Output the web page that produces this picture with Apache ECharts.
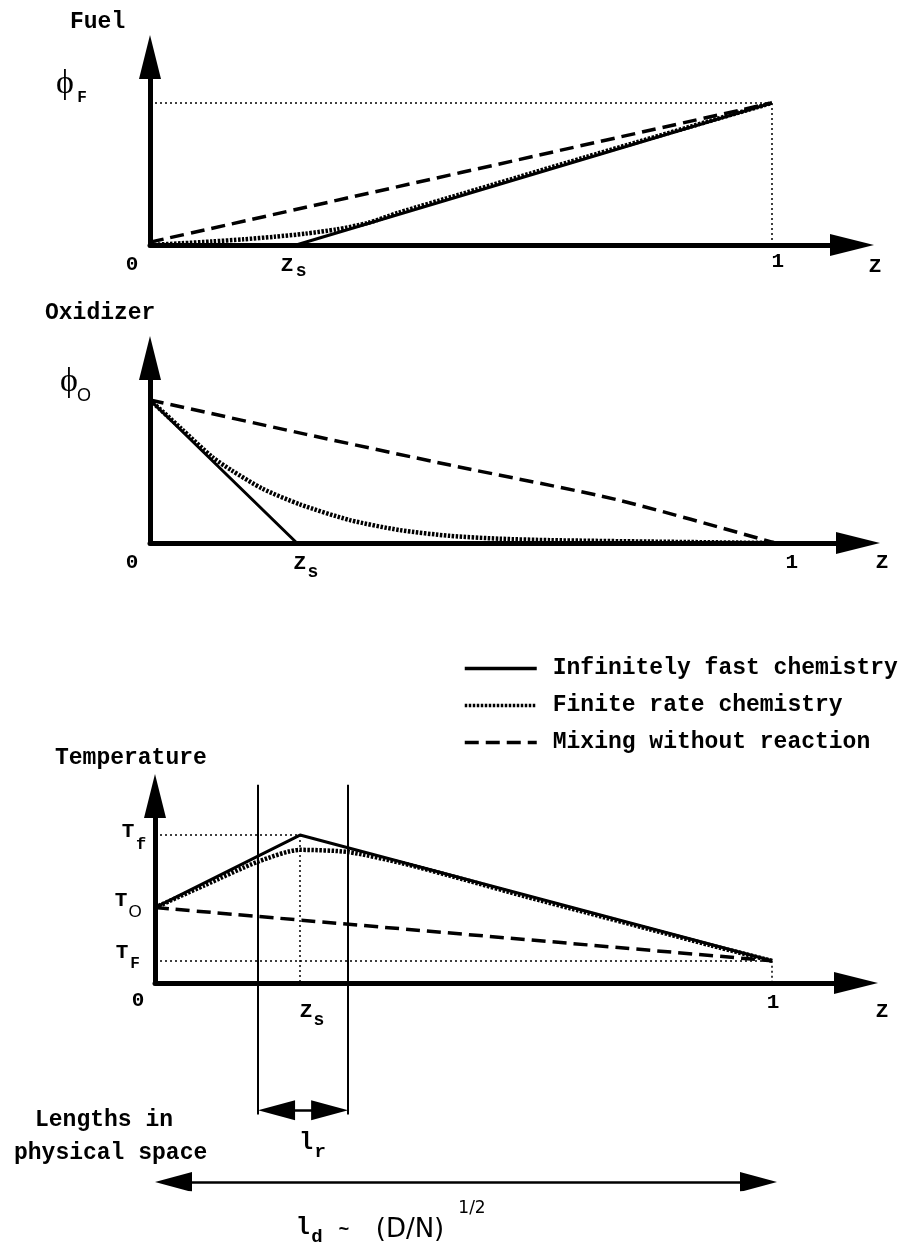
<!DOCTYPE html>
<html>
<head>
<meta charset="utf-8">
<script src="https://cdn.jsdelivr.net/npm/echarts@6/dist/echarts.min.js"></script>
<style>
  html, body { margin: 0; padding: 0; background: #fff; }
  #chart { width: 899px; height: 1246px; }
</style>
</head>
<body>
<div id="chart"></div>
<script>
// mixture fraction at stoichiometry
const zs = 0.235;

// fuel (scaled so phi_F = 1)
const fuelFast = [[0, 0], [zs, 0], [1, 1]];
const fuelFinite = [[0, 0], [0.05, 0.012], [0.1, 0.025], [0.15, 0.04], [0.2, 0.058], [0.25, 0.08],
  [0.3, 0.11], [0.35, 0.155], [0.4, 0.228], [0.5, 0.358], [0.7, 0.618], [1, 1]];
const fuelMix = [[0, 0.02], [1, 1]];

// oxidizer (scaled so phi_O = 1)
const oxFast = [[0, 1], [zs, 0], [1, 0]];
const oxFinite = [[0, 1], [0.05, 0.8], [0.1, 0.6], [0.13, 0.51], [0.18, 0.38], [0.24, 0.27], [0.32, 0.16],
  [0.4, 0.09], [0.48, 0.05], [0.56, 0.03], [0.64, 0.02], [0.8, 0.01], [1, 0]];
const oxMix = [[0, 1], [0.25, 0.76], [0.48, 0.545], [0.75, 0.3], [1, 0]];

// temperature (scaled so Tf = 1)
const tF = 0.15, tO = 0.51, tf = 1;
const tempFast = [[0, tO], [zs, tf], [1, tF]];
const tempFinite = [[0, tO], [0.08, 0.66], [0.167, 0.82], [0.235, 0.9], [0.313, 0.885], [0.4, 0.81],
  [0.5, 0.7], [0.6, 0.585], [0.7, 0.475], [0.8, 0.365], [0.9, 0.255], [1, tF]];
const tempMix = [[0, tO], [1, tF]];

// dotted guide lines
const fuelGuides = [[[0, 1], [1, 1]], [[1, 1], [1, 0]]];
const tempGuides = [[[0, tf], [zs, tf]], [[zs, tf], [zs, 0]], [[0, tF], [1, tF]], [[1, tF], [1, 0]]];

// physical space: reaction zone bounds (in Z) and arrow rows
const lrBounds = [0.167, 0.313];
const lrSpan = [0.18, 0.965];
const lrRow = 0.19;
const ldTips = [0, 1.008];
const ldRow = 0.019;
const head = 0.03;

const names = ['Infinitely fast chemistry', 'Finite rate chemistry', 'Mixing without reaction'];
const styles = [
  { color: '#000', width: 3 },
  { color: '#000', width: 4.5, type: [2.5, 1.5] },
  { color: '#000', width: 3.5, type: [14, 7] }
];

const xMax = [1.129, 1.133, 1.136, 1.136];
const yMax = [1.324, 1.294, 1.264, 1];

const chart = echarts.init(document.getElementById('chart'), null, { renderer: 'canvas' });

function panel(g, sets, guides) {
  return sets.map((d, i) => ({
    type: 'line',
    name: names[i],
    xAxisIndex: g,
    yAxisIndex: g,
    data: d,
    symbol: 'none',
    smooth: i === 0 ? false : 0.25,
    lineStyle: styles[i],
    itemStyle: { color: '#000' },
    silent: true,
    markLine: i === 0 && guides ? {
      silent: true,
      symbol: 'none',
      label: { show: false },
      lineStyle: { color: '#000', width: 1.5, type: [2, 3] },
      data: guides.map(p => [{ coord: p[0] }, { coord: p[1] }])
    } : undefined
  }));
}

const axisCommon = {
  type: 'value',
  min: 0,
  axisLine: {
    show: true,
    lineStyle: { color: '#000', width: 5 },
    symbol: ['none', 'triangle'],
    symbolSize: [22, 44]
  },
  axisTick: { show: false },
  axisLabel: { show: false },
  splitLine: { show: false }
};

const grids = [
  { left: 150, top: 57, width: 702, height: 188 },
  { left: 150, top: 358, width: 708, height: 185 },
  { left: 155, top: 796, width: 701, height: 187 },
  { left: 155, top: 770, width: 701, height: 420 }
];

const option = {
  animation: false,
  backgroundColor: '#fff',
  grid: grids.map(g => Object.assign({ outerBoundsMode: 'none' }, g)),
  xAxis: grids.map((g, i) => Object.assign({}, axisCommon, { gridIndex: i, max: xMax[i], show: i < 3 })),
  yAxis: grids.map((g, i) => Object.assign({}, axisCommon, { gridIndex: i, max: yMax[i], show: i < 3 })),
  legend: {
    data: names,
    orient: 'vertical',
    left: 458,
    top: 652,
    itemWidth: 72,
    itemHeight: 14,
    itemGap: 14,
    selectedMode: false,
    itemStyle: { opacity: 0 },
    lineStyle: { width: 3.5 },
    textStyle: { fontFamily: 'Liberation Mono', fontWeight: 'bold', fontSize: 23, color: '#000', padding: [0, 0, 0, 11] }
  },
  series: [
    ...panel(0, [fuelFast, fuelFinite, fuelMix], fuelGuides),
    ...panel(1, [oxFast, oxFinite, oxMix], null),
    ...panel(2, [tempFast, tempFinite, tempMix], tempGuides),
    {
      type: 'lines',
      coordinateSystem: 'cartesian2d',
      xAxisIndex: 3,
      yAxisIndex: 3,
      silent: true,
      symbol: ['none', 'none'],
      lineStyle: { color: '#000', width: 2, opacity: 1 },
      data: lrBounds.map(x => ({ coords: [[x, lrSpan[0]], [x, lrSpan[1]]] }))
    },
    {
      type: 'lines',
      coordinateSystem: 'cartesian2d',
      xAxisIndex: 3,
      yAxisIndex: 3,
      silent: true,
      symbol: ['triangle', 'triangle'],
      symbolSize: [[20, 37], [20, 37]],
      lineStyle: { color: '#000', width: 2.5, opacity: 1 },
      data: [
        { coords: [[lrBounds[0] + head, lrRow], [lrBounds[1] - head, lrRow]] },
        { coords: [[ldTips[0] + head, ldRow], [ldTips[1] - head, ldRow]] }
      ]
    }
  ]
};

chart.setOption(option);

// text labels, anchored through the axes
const P = (g, x, y) => chart.convertToPixel({ gridIndex: g }, [x, y]);
const mono = s => 'bold ' + s + 'px "Liberation Mono"';
function T(a, dx, dy, text, font, align) {
  return {
    type: 'text', x: a[0] + dx, y: a[1] + dy, silent: true,
    style: {
      text: text, font: font, fill: '#000',
      align: align || 'center', verticalAlign: 'middle',
      textAlign: align || 'center', textVerticalAlign: 'middle'
    }
  };
}
const phiFont = '34px "Liberation Serif"';

const labels = [];
// fuel panel
labels.push(T(P(0, 0, yMax[0]), -80, -35, 'Fuel', mono(23), 'left'));
labels.push(T(P(0, 0, 1), -85, -19, '\u03d5', phiFont));
labels.push(T(P(0, 0, 1), -68, -5, 'F', mono(16)));
labels.push(T(P(0, 0, 0), -18, 20, '0', mono(21)));
labels.push(T(P(0, zs, 0), -9, 21, 'Z', mono(21)));
labels.push(T(P(0, zs, 0), 5, 26, 's', mono(18)));
labels.push(T(P(0, 1, 0), 6, 17, '1', mono(21)));
labels.push(T(P(0, xMax[0], 0), 23, 22, 'Z', mono(21)));
// oxidizer panel
labels.push(T(P(1, 0, yMax[1]), -105, -45, 'Oxidizer', mono(23), 'left'));
labels.push(T(P(1, 0, 1), -81, -18, '\u03d5', phiFont));
labels.push(T(P(1, 0, 1), -66, -4, 'O', '18px "Liberation Sans"'));
labels.push(T(P(1, 0, 0), -18, 20, '0', mono(21)));
labels.push(T(P(1, zs, 0), 3, 21, 'Z', mono(21)));
labels.push(T(P(1, zs, 0), 16, 29, 's', mono(18)));
labels.push(T(P(1, 1, 0), 17, 20, '1', mono(21)));
labels.push(T(P(1, xMax[1], 0), 24, 20, 'Z', mono(21)));
// temperature panel
labels.push(T(P(2, 0, yMax[2]), -100, -38, 'Temperature', mono(23), 'left'));
labels.push(T(P(2, 0, tf), -27, -3, 'T', mono(21)));
labels.push(T(P(2, 0, tf), -14, 10, 'f', mono(17)));
labels.push(T(P(2, 0, tO), -34, -7, 'T', mono(21)));
labels.push(T(P(2, 0, tO), -20, 5, 'O', '17px "Liberation Sans"'));
labels.push(T(P(2, 0, tF), -33, -8, 'T', mono(21)));
labels.push(T(P(2, 0, tF), -20, 3, 'F', mono(16)));
labels.push(T(P(2, 0, 0), -17, 18, '0', mono(21)));
labels.push(T(P(2, zs, 0), 6, 29, 'Z', mono(21)));
labels.push(T(P(2, zs, 0), 19, 37, 's', mono(18)));
labels.push(T(P(2, 1, 0), 1, 20, '1', mono(21)));
labels.push(T(P(2, xMax[2], 0), 26, 29, 'Z', mono(21)));
// physical space
labels.push(T(P(3, 0, ldRow), -120, -62, 'Lengths in', mono(23), 'left'));
labels.push(T(P(3, 0, ldRow), -141, -29, 'physical space', mono(23), 'left'));
const lrMid = P(3, (lrBounds[0] + lrBounds[1]) / 2, lrRow);
labels.push(T(lrMid, 3, 33, 'l', mono(23)));
labels.push(T(lrMid, 17, 42, 'r', mono(19)));
const ldMid = P(3, (ldTips[0] + ldTips[1]) / 2, ldRow);
labels.push(T(ldMid, -163, 46, 'l', mono(23)));
labels.push(T(ldMid, -149, 55, 'd', mono(19)));
labels.push(T(ldMid, -122, 48, '~', mono(18)));
labels.push(T(ldMid, -56, 48, '(D/N)', '26px "DejaVu Sans"'));
labels.push(T(ldMid, 6, 27, '1/2', '17px "DejaVu Sans"'));

chart.setOption({ graphic: { elements: labels } });
</script>
</body>
</html>
